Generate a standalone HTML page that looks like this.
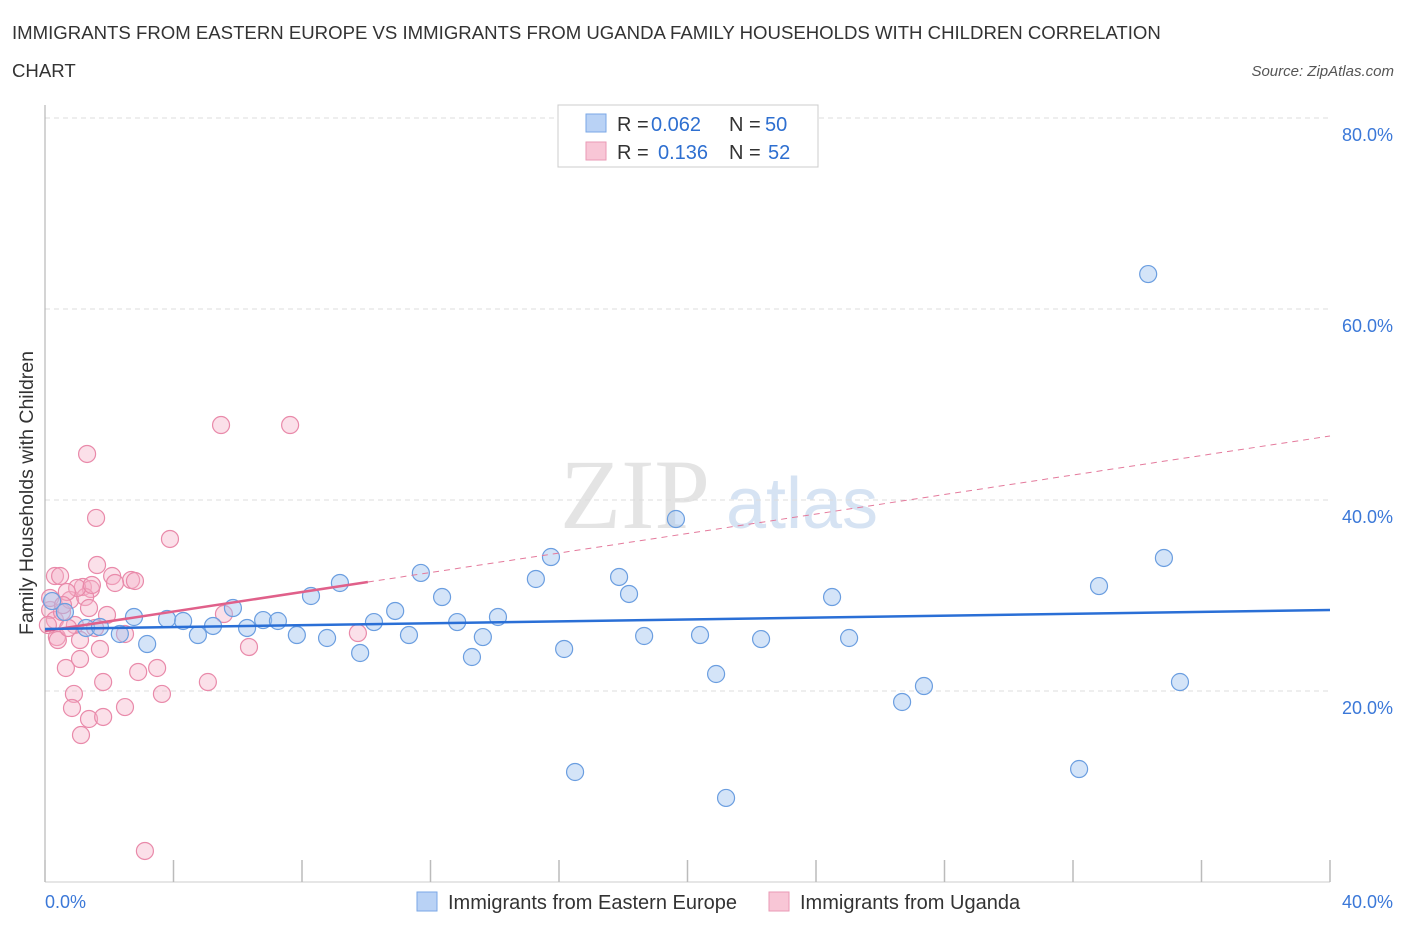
<!DOCTYPE html>
<html><head><meta charset="utf-8"><style>
body{margin:0;background:#fff;font-family:"Liberation Sans",sans-serif}
</style></head><body>
<svg id="c" width="1406" height="930" xmlns="http://www.w3.org/2000/svg">
<text x="12" y="39" font-size="18.6" fill="#333">IMMIGRANTS FROM EASTERN EUROPE VS IMMIGRANTS FROM UGANDA FAMILY HOUSEHOLDS WITH CHILDREN CORRELATION</text>
<text x="12" y="77" font-size="18.6" fill="#333">CHART</text>
<text x="1394" y="76" font-size="15" font-style="italic" fill="#555" text-anchor="end">Source: ZipAtlas.com</text>
<text x="635" y="528" font-size="100" font-family="Liberation Serif,serif" fill="#e4e4e4" text-anchor="middle">ZIP</text>
<text x="802" y="528" font-size="72" fill="#d6e3f3" text-anchor="middle">atlas</text>
<g id="grid"></g><g id="marks"></g>
<text x="33" y="493" font-size="19.5" fill="#333" text-anchor="middle" transform="rotate(-90 33 493)">Family Households with Children</text>
<rect x="558" y="105" width="260" height="62" fill="#fff" stroke="#ccc"/>
<rect x="586" y="114" width="20" height="18" fill="#b9d2f5" stroke="#7aa7e6"/>
<rect x="586" y="142" width="20" height="18" fill="#f8c6d6" stroke="#ea9ab5"/>
<g font-size="20" fill="#333">
<text x="617" y="131">R =</text>
<text x="651" y="131" fill="#2e6fd0">0.062</text>
<text x="729" y="131">N =</text>
<text x="765" y="131" fill="#2e6fd0">50</text>
<text x="617" y="159">R =</text>
<text x="658" y="159" fill="#2e6fd0">0.136</text>
<text x="729" y="159">N =</text>
<text x="768" y="159" fill="#2e6fd0">52</text>
</g>
<rect x="417" y="892" width="20" height="19" fill="#b9d2f5" stroke="#7aa7e6"/>
<text x="448" y="909" font-size="20" fill="#333">Immigrants from Eastern Europe</text>
<rect x="769" y="892" width="20" height="19" fill="#f8c6d6" stroke="#ea9ab5"/>
<text x="800" y="909" font-size="20" fill="#333">Immigrants from Uganda</text>
</svg>
<script>
const blueX=[0.22,0.62,1.28,1.71,2.33,2.77,3.18,3.80,4.30,4.76,5.23,5.85,6.29,6.79,7.25,7.84,8.28,8.78,9.18,9.81,10.24,10.90,11.33,11.70,12.36,12.83,13.29,13.63,14.10,15.28,15.75,16.16,16.50,17.87,18.18,18.65,19.64,20.39,20.89,21.20,22.29,24.50,25.03,26.68,27.36,32.19,32.81,34.34,34.83,35.33];
const blueY=[29.42,28.27,26.60,26.70,25.97,27.75,24.92,27.54,27.33,25.86,26.81,28.69,26.60,27.43,27.33,25.86,29.95,25.55,31.31,23.98,27.22,28.38,25.86,32.36,29.84,27.22,23.56,25.65,27.75,31.73,34.03,24.40,11.52,31.94,30.16,25.76,38.01,25.86,21.78,8.80,25.44,29.84,25.55,18.85,20.52,11.83,30.99,63.66,33.93,20.94];
const pinkX=[0.31,0.47,0.16,0.31,0.53,0.78,0.93,1.09,0.65,0.37,1.31,1.59,1.62,1.18,1.43,1.25,1.37,1.56,1.71,1.81,0.90,0.84,1.09,1.37,1.81,1.12,2.09,2.68,2.80,2.49,2.49,2.90,3.49,3.64,3.89,5.07,5.48,5.57,6.35,7.63,9.74,3.11,1.00,0.68,1.46,0.09,0.40,0.72,1.93,2.18,0.16,0.56];
const pinkY=[32.04,32.04,28.48,27.43,28.27,29.53,26.91,25.34,22.41,25.65,44.82,38.12,33.19,30.89,30.68,29.84,28.69,26.60,24.40,20.94,19.69,18.22,23.35,17.07,17.28,15.39,32.04,31.62,31.52,25.97,18.32,21.99,22.41,19.69,35.92,20.94,47.85,28.06,24.61,47.85,26.07,3.25,30.79,30.37,31.10,26.91,25.34,26.60,27.96,31.31,29.74,29.00];
const blueTrend=[26.49,28.48];
const pinkTrend=[26.28,46.70];
const pinkSolidEnd=10.05;
const yTicks=[20,40,60,80];
const xTickVals=[0,4,8,12,16,20,24,28,32,36,40];
const NS='http://www.w3.org/2000/svg';
const X=v=>45+v/40*1285, Y=v=>882-v/20*191;
function mk(t,a,p){const e=document.createElementNS(NS,t);for(const k in a)e.setAttribute(k,a[k]);p.appendChild(e);return e;}
const g=document.getElementById('grid'),m=document.getElementById('marks');
yTicks.forEach(t=>{
 const l=mk('line',{x1:45,x2:1330,y1:Y(t),y2:Y(t),stroke:'#ddd','stroke-dasharray':'5,4'},g);
 
 
 const tx=mk('text',{x:1393,y:Y(t)+23,'font-size':18,fill:'#3b78d8','text-anchor':'end'},g);tx.textContent=t.toFixed(1)+'%';
 
 
});
const ax=mk('line',{x1:45,x2:45,y1:105,y2:882,stroke:'#aaa'},g);


const bx=mk('line',{x1:45,x2:1330,y1:882,y2:882,stroke:'#ccc'},g);


xTickVals.forEach(t=>{const l=mk('line',{x1:X(t),x2:X(t),y1:860,y2:882,stroke:'#bbb','stroke-width':1.5},g);
 
 });
[[0,45,'start'],[40,1393,'end']].forEach(([v,x,a])=>{const t=mk('text',{x:x,y:908,'font-size':18,fill:'#3b78d8','text-anchor':a},g);t.textContent=v.toFixed(1)+'%';
 
 });
pinkX.forEach((v,i)=>{const c=mk('circle',{cx:X(v),cy:Y(pinkY[i]),r:8.5,fill:'rgba(246,178,200,0.4)',stroke:'#e98aaa','stroke-width':1.2},m);
 
 });
blueX.forEach((v,i)=>{const c=mk('circle',{cx:X(v),cy:Y(blueY[i]),r:8.5,fill:'rgba(160,196,240,0.45)',stroke:'#6b9ee0','stroke-width':1.2},m);
 
 });
const pv=x=>pinkTrend[0]+(pinkTrend[1]-pinkTrend[0])*x/40;
const pd=mk('line',{x1:X(pinkSolidEnd),y1:Y(pv(pinkSolidEnd)),x2:X(40),y2:Y(pinkTrend[1]),stroke:'#e47a9c','stroke-dasharray':'6,5','stroke-width':1},m);


const ps=mk('line',{x1:X(0),y1:Y(pinkTrend[0]),x2:X(pinkSolidEnd),y2:Y(pv(pinkSolidEnd)),stroke:'#e0608a','stroke-width':2.5},m);


const bl=mk('line',{x1:X(0),y1:Y(blueTrend[0]),x2:X(40),y2:Y(blueTrend[1]),stroke:'#2a6fd6','stroke-width':2.5},m);


</script>
</body></html>
